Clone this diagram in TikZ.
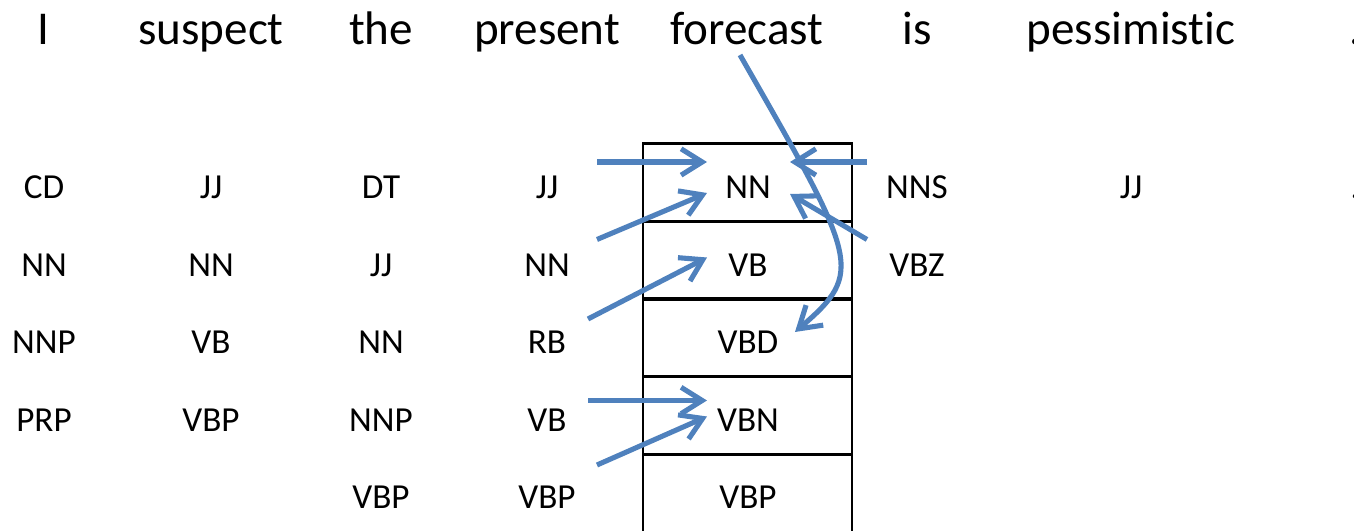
\documentclass[tikz,border=0pt]{standalone}
\usepackage{fontspec}
\setmainfont{Carlito}[Ligatures=NoCommon]
\usetikzlibrary{arrows.meta}
\definecolor{linkblue}{HTML}{4F81BD}

\begin{document}
\begin{tikzpicture}[x=0.1mm,y=0.1mm,
    word/.style={anchor=base,inner sep=0pt,font=\fontsize{13.4}{16}\selectfont},
    tag/.style={anchor=base,inner sep=0pt,font=\fontsize{10}{12}\selectfont},
    cell/.style={draw,line width=0.8pt,minimum width=20.9mm,minimum height=7.8mm,inner sep=0pt},
    link/.style={linkblue,line width=1.45pt,-{Straight Barb[length=6pt,width=7.5pt]}}]
    \useasboundingbox (0,0) rectangle (1354,531);
    % sentence
    \foreach \x/\w [count=\i] in {43/I,211/suspect,381/the,547/present,747/forecast,917/is,1131/pessimistic,1355/.}
      { \node[word] (w\i) at (\x,486) {\w}; }
    % chosen column of the lattice
    \foreach \r in {1,...,5} { \node[cell] (c\r) at (747.5,{348.5-77.7*(\r-1)}) {}; }
    % candidate tags per word
    \foreach \t [count=\r] in {CD,NN,NNP,PRP}     { \node[tag] (t1-\r) at (44,{332-77.5*(\r-1)}) {\t}; }
    \foreach \t [count=\r] in {JJ,NN,VB,VBP}      { \node[tag] (t2-\r) at (211,{332-77.5*(\r-1)}) {\t}; }
    \foreach \t [count=\r] in {DT,JJ,NN,NNP,VBP}  { \node[tag] (t3-\r) at (381,{332-77.5*(\r-1)}) {\t}; }
    \foreach \t [count=\r] in {JJ,NN,RB,VB,VBP}   { \node[tag] (t4-\r) at (547,{332-77.5*(\r-1)}) {\t}; }
    \foreach \t [count=\r] in {NN,VB,VBD,VBN,VBP} { \node[tag] (t5-\r) at (748,{332-77.5*(\r-1)}) {\t}; }
    \foreach \t [count=\r] in {NNS,VBZ}           { \node[tag] (t6-\r) at (917,{332-77.5*(\r-1)}) {\t}; }
    \node[tag] (t7-1) at (1131,332) {JJ};
    \node[tag] (t8-1) at (1355,332) {.};
    % transitions into the forecast column
    \draw[link] ([shift={(50,37)}]t4-1.base) -- ([shift={(-41,37)}]t5-1.base);
    \draw[link] ([shift={(50,37)}]t4-2.base) -- ([shift={(-41,6)}]t5-1.base);
    \draw[link] ([shift={(41,35)}]t4-3.base) -- ([shift={(-41,19)}]t5-2.base);
    \draw[link] ([shift={(41,31)}]t4-4.base) -- ([shift={(-41,31)}]t5-4.base);
    \draw[link] ([shift={(50,44)}]t4-5.base) -- ([shift={(-41,15)}]t5-4.base);
    \draw[link] ([shift={(-50,37)}]t6-1.base) -- ([shift={(42,37)}]t5-1.base);
    \draw[link] ([shift={(-50,37)}]t6-2.base) -- ([shift={(42,5)}]t5-1.base);
    \draw[link] ([shift={(-7,-10)}]w5.base) .. controls (858,270) and (865,259) .. ([shift={(47,22)}]t5-3.base);
\end{tikzpicture}
\end{document}
